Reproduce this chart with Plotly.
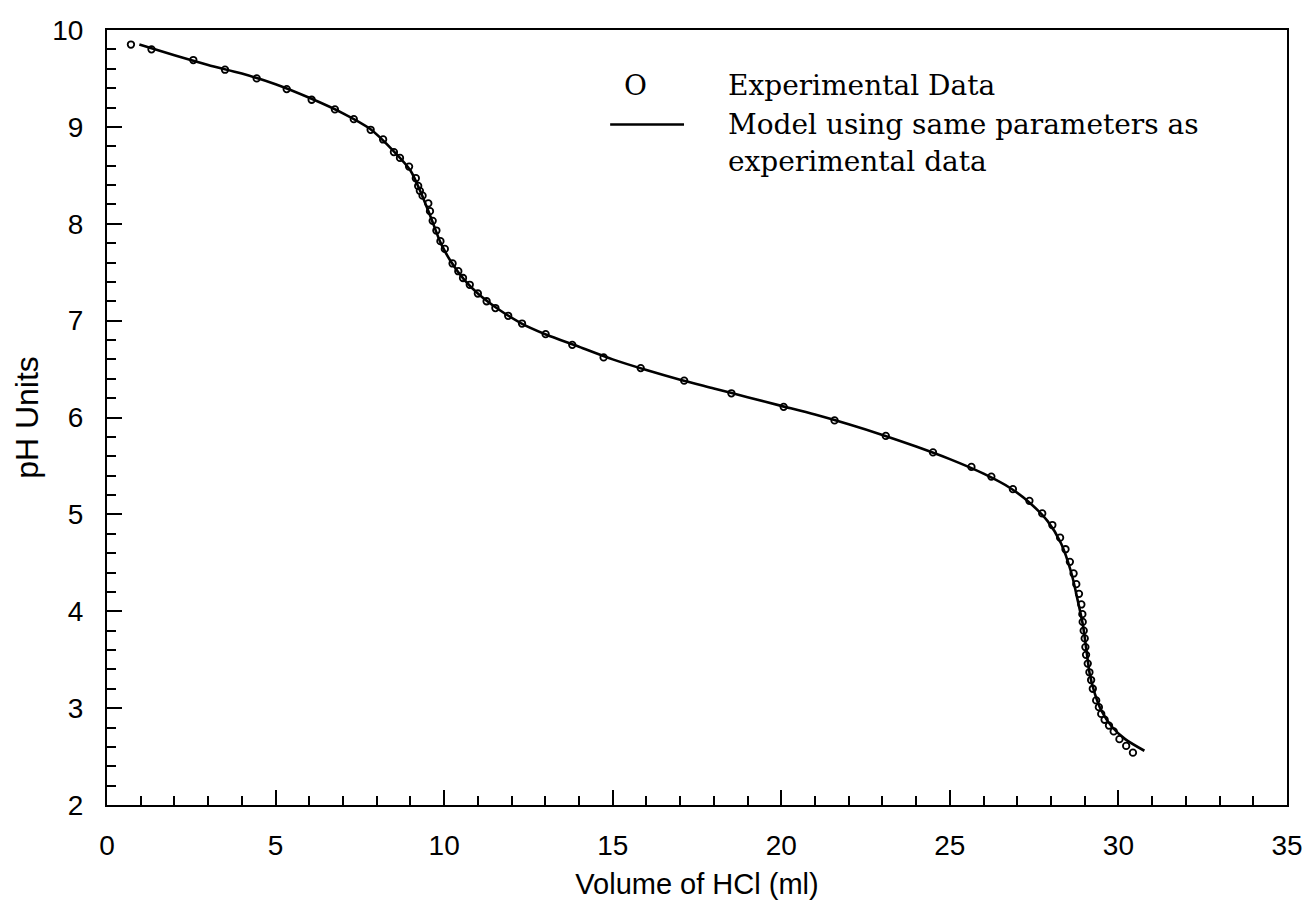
import plotly.graph_objects as go

# Titration of the base with HCl: measured pH readings
exp_volume_ml = [0.71, 1.32, 2.56, 3.50, 4.44, 5.33, 6.07, 6.76, 7.32, 7.82,
                 8.19, 8.51, 8.69, 8.96, 9.16, 9.23, 9.28, 9.36, 9.53, 9.58,
                 9.66, 9.77, 9.89, 10.02, 10.25, 10.42, 10.56, 10.76, 11.00, 11.26,
                 11.52, 11.90, 12.31, 13.01, 13.80, 14.73, 15.83, 17.12, 18.52, 20.07,
                 21.58, 23.10, 24.50, 25.64, 26.23, 26.87, 27.36, 27.74, 28.04, 28.27,
                 28.43, 28.56, 28.67, 28.75, 28.83, 28.90, 28.93, 28.94, 28.97, 29.00,
                 29.02, 29.04, 29.09, 29.14, 29.19, 29.24, 29.34, 29.42, 29.49, 29.59,
                 29.72, 29.86, 30.03, 30.23, 30.43]
exp_ph = [9.85, 9.80, 9.69, 9.59, 9.50, 9.39, 9.28, 9.18, 9.08, 8.97,
          8.87, 8.74, 8.68, 8.59, 8.47, 8.39, 8.34, 8.29, 8.21, 8.13,
          8.03, 7.93, 7.82, 7.74, 7.59, 7.51, 7.44, 7.37, 7.28, 7.20,
          7.13, 7.05, 6.97, 6.86, 6.75, 6.62, 6.51, 6.38, 6.25, 6.11,
          5.97, 5.81, 5.64, 5.49, 5.39, 5.26, 5.14, 5.01, 4.89, 4.76,
          4.64, 4.51, 4.39, 4.28, 4.18, 4.07, 3.97, 3.89, 3.80, 3.72,
          3.63, 3.55, 3.46, 3.37, 3.29, 3.20, 3.08, 3.01, 2.94, 2.88,
          2.82, 2.76, 2.68, 2.61, 2.54]

# Model curve computed with the same parameters
model_volume_ml = [0.96, 2.0, 3.0, 4.0, 5.0, 6.0, 7.0, 7.8, 8.5, 9.0,
                   9.3, 9.6, 9.9, 10.2, 10.6, 11.0, 11.6, 12.3, 13.0, 14.0,
                   15.0, 16.0, 17.0, 18.0, 19.0, 20.0, 21.0, 22.0, 23.0, 24.0,
                   25.0, 26.0, 26.8, 27.4, 27.9, 28.3, 28.6, 28.8, 28.95, 29.05,
                   29.15, 29.3, 29.5, 29.8, 30.2, 30.77]
model_ph = [9.85, 9.74, 9.64, 9.55, 9.44, 9.30, 9.14, 8.98, 8.75, 8.55,
            8.33, 8.07, 7.80, 7.61, 7.42, 7.28, 7.12, 6.97, 6.86, 6.73,
            6.60, 6.49, 6.39, 6.30, 6.21, 6.12, 6.03, 5.93, 5.82, 5.70,
            5.57, 5.42, 5.27, 5.11, 4.93, 4.70, 4.40, 4.10, 3.85, 3.60,
            3.35, 3.15, 2.97, 2.81, 2.68, 2.56]

x_ticks = [0, 5, 10, 15, 20, 25, 30, 35]
y_ticks = [2, 3, 4, 5, 6, 7, 8, 9, 10]

legend_labels = ["Experimental Data",
                 "Model using same parameters as",
                 "experimental data"]

fig = go.Figure()

fig.add_trace(go.Scatter(
    x=exp_volume_ml, y=exp_ph, mode="markers",
    marker=dict(symbol="circle-open", size=6.5, color="black",
                line=dict(width=1.8, color="black")),
    showlegend=False,
))

fig.add_trace(go.Scatter(
    x=model_volume_ml, y=model_ph, mode="lines",
    line=dict(color="black", width=2.6, shape="spline", smoothing=0.8),
    showlegend=False,
))

tick_font = dict(family="Liberation Sans, Arial, sans-serif", size=28, color="black")
xtitle_font = dict(family="Liberation Sans, Arial, sans-serif", size=29, color="black")
ytitle_font = dict(family="Liberation Sans, Arial, sans-serif", size=32, color="black")
serif = dict(family="DejaVu Serif, serif", size=28, color="black")

fig.update_xaxes(
    range=[0, 35], tickvals=x_ticks, ticktext=[str(v) for v in x_ticks],
    showline=True, linecolor="black", linewidth=2, mirror=True,
    ticks="inside", ticklen=15, tickwidth=1.5, tickcolor="black",
    minor=dict(dtick=1, ticks="inside", ticklen=9, tickwidth=1.5, tickcolor="black"),
    showgrid=False, zeroline=False,
    tickfont=tick_font, ticklabelstandoff=14,
    title=dict(text="Volume of HCl (ml)", font=xtitle_font, standoff=14),
)
fig.update_yaxes(
    range=[2, 10], tickvals=y_ticks, ticktext=[str(v) for v in y_ticks],
    showline=True, linecolor="black", linewidth=2, mirror=True,
    ticks="inside", ticklen=15, tickwidth=1.5, tickcolor="black",
    minor=dict(dtick=0.2, ticks="inside", ticklen=9, tickwidth=1.5, tickcolor="black"),
    showgrid=False, zeroline=False,
    tickfont=tick_font, ticklabelstandoff=16,
    title=dict(text="pH Units", font=ytitle_font, standoff=4),
)

# Legend block drawn inside the plot area
fig.add_annotation(xref="paper", yref="paper", x=0.448, y=0.929, text="O",
                   showarrow=False, font=serif, xanchor="center", yanchor="middle")
fig.add_shape(type="line", xref="paper", yref="paper",
              x0=0.4264, x1=0.489, y0=0.878, y1=0.878,
              line=dict(color="black", width=2.6))
for label, ypos in zip(legend_labels, [0.929, 0.878, 0.830]):
    fig.add_annotation(xref="paper", yref="paper", x=0.5245, y=ypos, text=label,
                       showarrow=False, font=serif, xanchor="left", yanchor="middle")

fig.update_layout(
    width=1315, height=914,
    margin=dict(l=107, r=26, t=30, b=109),
    paper_bgcolor="white", plot_bgcolor="white",
)

fig.write_html("out.html")
